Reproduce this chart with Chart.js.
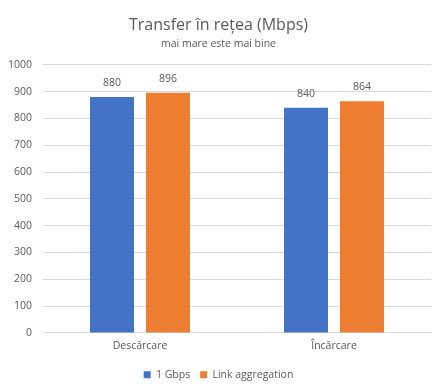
<!DOCTYPE html>
<html>
<head>
<meta charset="utf-8">
<script src="https://cdn.jsdelivr.net/npm/chart.js@4"></script>
<style>
  html, body { margin: 0; padding: 0; background: #fff; }
  #wrap { width: 444px; height: 390px; }
</style>
</head>
<body>
<div id="wrap"><canvas id="chart" width="444" height="390"></canvas></div>
<script>
const categories = ['Descărcare', 'Încărcare'];
const seriesNames = ['1 Gbps', 'Link aggregation'];
const gbpsValues = [880, 840];
const aggValues = [896, 864];
const yTicks = [0, 100, 200, 300, 400, 500, 600, 700, 800, 900, 1000];

const textColor = '#595959';
const fontFamily = '"Open Sans", "Noto Sans", sans-serif';
const smallSize = 10.5;

// Etichete de valoare deasupra barelor
const valueLabels = {
    id: 'valueLabels',
    afterDatasetsDraw(chart) {
        const ctx = chart.ctx;
        ctx.save();
        ctx.font = smallSize + 'px ' + fontFamily;
        ctx.fillStyle = textColor;
        ctx.textAlign = 'center';
        ctx.textBaseline = 'middle';
        chart.data.datasets.forEach((ds, i) => {
            chart.getDatasetMeta(i).data.forEach((bar, j) => {
                ctx.fillText(ds.data[j], bar.x, bar.y - 14);
            });
        });
        ctx.restore();
    }
};

new Chart(document.getElementById('chart'), {
    type: 'bar',
    data: {
        labels: categories,
        datasets: [
            { label: seriesNames[0], data: gbpsValues, backgroundColor: '#4472C4' },
            { label: seriesNames[1], data: aggValues, backgroundColor: '#ED7D31' }
        ]
    },
    options: {
        responsive: false,
        animation: false,
        devicePixelRatio: 1,
        layout: { padding: { left: 6, right: 13, top: 12, bottom: 0 } },
        datasets: {
            bar: { categoryPercentage: 0.577, barPercentage: 0.786 }
        },
        scales: {
            x: {
                grid: { display: false, drawTicks: false },
                border: { color: '#d9d9d9' },
                ticks: { color: textColor, font: { size: smallSize, family: fontFamily }, padding: 7 }
            },
            y: {
                min: 0,
                max: 1000,
                afterBuildTicks(scale) { scale.ticks = yTicks.map(v => ({ value: v })); },
                afterFit(scale) { scale.width = 37; },
                grid: { color: '#d9d9d9', drawTicks: false },
                border: { display: false },
                ticks: {
                    color: textColor,
                    font: { size: smallSize, family: fontFamily },
                    padding: 11,
                    callback: v => String(v)
                }
            }
        },
        plugins: {
            title: {
                display: true,
                text: 'Transfer în rețea (Mbps)',
                color: textColor,
                font: { size: 16, weight: 'normal', family: fontFamily },
                padding: { top: 4, bottom: 3 }
            },
            subtitle: {
                display: true,
                text: 'mai mare este mai bine',
                color: textColor,
                font: { size: smallSize, family: fontFamily },
                padding: { bottom: 14 }
            },
            legend: {
                position: 'bottom',
                labels: {
                    color: textColor,
                    font: { size: smallSize, family: fontFamily },
                    boxWidth: 7,
                    boxHeight: 7,
                    padding: 10
                }
            },
            tooltip: { enabled: false }
        }
    },
    plugins: [valueLabels]
});
</script>
</body>
</html>
